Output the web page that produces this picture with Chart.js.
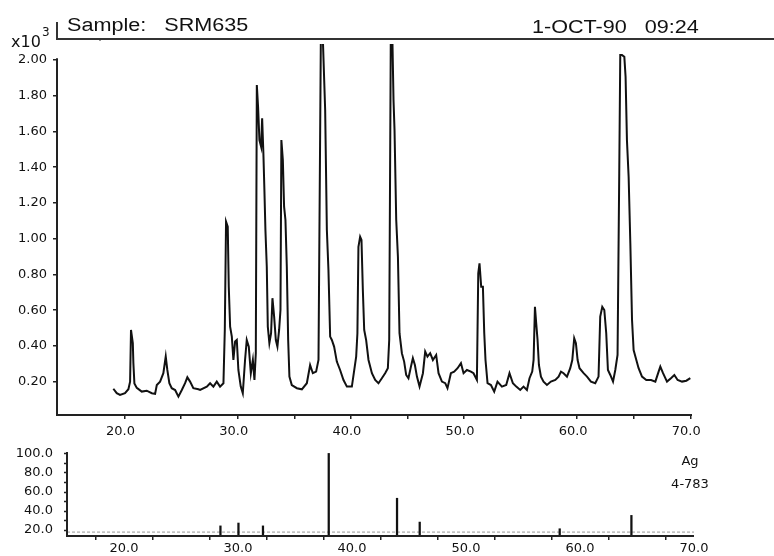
<!DOCTYPE html>
<html>
<head>
<meta charset="utf-8">
<title>SRM635 scan</title>
<script src="https://cdn.jsdelivr.net/npm/chart.js@4.4.1/dist/chart.umd.min.js"></script>
<style>
body{margin:0;background:#fff;}
#wrap{position:relative;width:774px;height:556px;}
#scanCanvas{position:absolute;left:0;top:0;}
#refCanvas{position:absolute;left:0;top:440px;}
</style>
</head>
<body>
<div id="wrap">
<canvas id="scanCanvas" width="774" height="440"></canvas>
<canvas id="refCanvas" width="774" height="116"></canvas>
</div>
<script>

// measured scan: 2-theta (deg) and counts (x10^3)
const twoTheta = [
19.01,19.31,19.60,20.04,20.34,20.49,20.57,20.73,20.78,20.87,
21.08,21.52,21.96,22.41,22.70,22.85,23.14,23.43,23.64,23.78,
23.96,24.17,24.47,24.76,25.06,25.35,25.55,25.79,26.08,26.53,
26.68,27.27,27.56,27.85,28.15,28.44,28.74,28.86,28.97,29.12,
29.21,29.33,29.48,29.62,29.77,29.92,30.06,30.27,30.45,30.65,
30.80,30.98,31.16,31.34,31.48,31.60,31.69,31.80,31.92,32.07,
32.16,32.27,32.36,32.45,32.57,32.66,32.80,32.95,33.07,33.22,
33.37,33.51,33.66,33.78,33.86,33.99,34.10,34.22,34.34,34.46,
34.57,34.78,35.23,35.67,36.11,36.40,36.64,36.93,37.14,37.38,
37.73,37.88,38.02,38.17,38.32,38.52,38.76,39.05,39.35,39.65,
40.09,40.47,40.58,40.67,40.82,40.94,41.06,41.18,41.35,41.56,
41.86,42.15,42.44,42.74,43.03,43.27,43.39,43.56,43.77,43.86,
44.01,44.16,44.30,44.51,44.71,44.89,45.09,45.31,45.48,45.66,
45.84,46.07,46.37,46.57,46.77,47.01,47.25,47.54,47.75,48.05,
48.34,48.54,48.84,49.13,49.43,49.73,49.96,50.26,50.61,50.84,
51.14,51.26,51.37,51.52,51.67,51.79,51.90,52.08,52.38,52.67,
52.96,53.35,53.73,54.02,54.32,54.62,54.97,55.26,55.56,55.79,
56.03,56.15,56.27,56.38,56.50,56.62,56.80,57.03,57.33,57.68,
58.07,58.36,58.57,58.80,59.10,59.39,59.57,59.74,59.89,60.04,
60.21,60.57,60.87,61.22,61.60,61.89,62.04,62.22,62.40,62.57,
62.72,62.93,63.17,63.37,63.57,63.72,63.81,63.96,64.17,64.28,
64.40,64.55,64.70,64.85,64.99,65.23,65.43,65.73,66.11,66.53,
66.91,67.20,67.35,67.59,67.94,68.29,68.59,68.88,69.27,69.65,
70.00
];

const counts = [
0.160,0.135,0.125,0.135,0.157,0.200,0.489,0.416,0.304,0.190,
0.165,0.144,0.149,0.135,0.131,0.181,0.200,0.247,0.340,0.265,
0.191,0.163,0.153,0.116,0.153,0.191,0.224,0.200,0.163,0.157,
0.153,0.172,0.191,0.172,0.200,0.172,0.191,0.489,1.095,1.067,
0.731,0.508,0.452,0.321,0.424,0.433,0.265,0.172,0.135,0.321,
0.433,0.396,0.247,0.321,0.209,0.359,1.860,1.739,1.552,1.515,
1.674,1.478,1.273,1.049,0.843,0.508,0.415,0.471,0.667,0.564,
0.433,0.396,0.489,0.601,1.552,1.440,1.179,1.105,0.843,0.433,
0.228,0.181,0.163,0.157,0.191,0.293,0.247,0.256,0.321,2.400,
1.720,1.049,0.825,0.452,0.433,0.396,0.312,0.265,0.209,0.172,
0.172,0.340,0.471,0.955,1.011,0.993,0.713,0.489,0.433,0.321,
0.247,0.209,0.191,0.219,0.247,0.275,0.433,2.500,1.776,1.608,
1.105,0.899,0.471,0.359,0.312,0.237,0.219,0.284,0.331,0.293,
0.228,0.172,0.247,0.368,0.340,0.359,0.321,0.349,0.247,0.200,
0.191,0.163,0.247,0.256,0.275,0.303,0.247,0.265,0.256,0.247,
0.209,0.806,0.862,0.731,0.731,0.471,0.321,0.191,0.181,0.144,
0.200,0.172,0.181,0.247,0.191,0.172,0.153,0.172,0.153,0.219,
0.256,0.321,0.619,0.527,0.433,0.293,0.228,0.200,0.181,0.200,
0.209,0.228,0.256,0.247,0.228,0.275,0.321,0.443,0.415,0.321,
0.275,0.247,0.228,0.200,0.191,0.228,0.564,0.619,0.601,0.471,
0.265,0.237,0.200,0.265,0.349,1.366,2.028,2.028,2.018,1.907,
1.552,1.347,0.974,0.545,0.377,0.321,0.275,0.228,0.209,0.209,
0.200,0.256,0.284,0.247,0.200,0.219,0.237,0.209,0.200,0.205,
0.219
];

// reference pattern Ag 4-783: line positions and relative intensity
const refAngles = [28.46, 30.04, 32.19, 37.96, 43.95, 45.94, 58.22, 64.51];
const refIntensity = [24, 27, 24, 100, 53, 28, 21, 35];
const refThreshold = 17.5;

// axis ranges and ticks
const scanXRange = [14.03, 70.15];
const scanYRange = [0.013, 2.09];
const scanXTicks = [20,25,30,35,40,45,50,55,60,65,70];
const scanYTicks = [0.2,0.4,0.6,0.8,1.0,1.2,1.4,1.6,1.8,2.0];

const refXRange = [15, 70];
const refYRange = [13.4, 101.5];
const refXTicks = [15,20,25,30,35,40,45,50,55,60,65,70];
const refYTicks = [20,30,40,50,60,70,80,90,100];

const ink = "#111";
const tickFont = {family:"'DejaVu Sans', sans-serif", size:13};

const scanPoints = twoTheta.map((t,i)=>({x:t, y:counts[i]}));
const refPoints = refAngles.map((t,i)=>({x:t, y:refIntensity[i]}));

// stretched text, the plotter font is wider than Arial
function wideText(ctx, text, x, y, sx){
    ctx.save();
    ctx.translate(x, y);
    ctx.scale(sx, 1);
    ctx.fillText(text, 0, 0);
    ctx.restore();
}

const scanFrame = {
    id:"scanFrame",
    afterDraw(chart){
        const {ctx, chartArea:a} = chart;
        const y = chart.scales.y;

        ctx.save();
        ctx.strokeStyle = "#222";
        ctx.lineWidth = 2;

        // axes
        ctx.beginPath();
        ctx.moveTo(a.left, y.getPixelForValue(2.01));
        ctx.lineTo(a.left, a.bottom);
        ctx.lineTo(a.right, a.bottom);
        ctx.stroke();

        // header rule
        ctx.strokeStyle = "#333";
        ctx.beginPath();
        ctx.moveTo(a.left, 22);
        ctx.lineTo(a.left, 39);
        ctx.lineTo(chart.width, 39);
        ctx.stroke();

        ctx.lineWidth = 1;
        ctx.beginPath();
        ctx.moveTo(100, 39);
        ctx.lineTo(100, 41);
        ctx.stroke();

        ctx.fillStyle = ink;
        ctx.textBaseline = "alphabetic";
        ctx.font = "18px 'Liberation Sans', Arial, sans-serif";
        wideText(ctx, "Sample:   SRM635", 67, 31, 1.2);
        wideText(ctx, "1-OCT-90   09:24", 532, 33, 1.2);

        ctx.font = "16px 'DejaVu Sans', sans-serif";
        ctx.fillText("x10", 11, 47);
        ctx.font = "12px 'DejaVu Sans', sans-serif";
        ctx.fillText("3", 42, 36);
        ctx.restore();
    }
};

const refFrame = {
    id:"refFrame",
    afterDraw(chart){
        const {ctx, chartArea:a} = chart;
        const y = chart.scales.y;

        ctx.save();
        ctx.strokeStyle = "#222";
        ctx.lineWidth = 2;
        ctx.beginPath();
        ctx.moveTo(a.left, a.top);
        ctx.lineTo(a.left, a.bottom);
        ctx.lineTo(a.right, a.bottom);
        ctx.stroke();

        // short ticks on the intensity axis
        ctx.lineWidth = 1.5;
        ctx.beginPath();
        refYTicks.forEach(v=>{
            const py = Math.round(y.getPixelForValue(v)) + 0.5;
            ctx.moveTo(a.left - 3, py);
            ctx.lineTo(a.left, py);
        });
        ctx.stroke();

        ctx.fillStyle = ink;
        ctx.textAlign = "center";
        ctx.font = "13px 'DejaVu Sans', sans-serif";
        ctx.fillText("Ag", 690, 25);
        ctx.fillText("4-783", 690, 48);
        ctx.restore();
    }
};

new Chart(

document.getElementById("scanCanvas"),

{
    type:"line",

    data:{
        datasets:[{
            data:scanPoints,
            borderColor:ink,
            borderWidth:2,
            pointRadius:0,
            tension:0
        }]
    },

    options:{
        responsive:false,
        animation:false,
        devicePixelRatio:1,
        layout:{padding:{top:44, right:82, left:0, bottom:0}},
        plugins:{legend:{display:false}, tooltip:{enabled:false}},
        scales:{
            x:{
                type:"linear",
                min:scanXRange[0],
                max:scanXRange[1],
                afterBuildTicks:s=>{ s.ticks = scanXTicks.map(v=>({value:v})); },
                afterFit:s=>{ s.height = 25; },
                border:{display:false},
                grid:{drawOnChartArea:false, color:"#222", lineWidth:1.5, tickLength:4},
                ticks:{
                    autoSkip:false, maxRotation:0,
                    padding:5, labelOffset:-4,
                    color:ink, font:tickFont,
                    callback:v=> v % 10 === 0 ? v.toFixed(1) : ""
                }
            },
            y:{
                min:scanYRange[0],
                max:scanYRange[1],
                afterBuildTicks:s=>{ s.ticks = scanYTicks.map(v=>({value:v})); },
                afterFit:s=>{ s.width = 57; },
                border:{display:false},
                grid:{drawOnChartArea:false, color:"#222", lineWidth:1.5, tickLength:4},
                ticks:{
                    autoSkip:false,
                    padding:6,
                    color:ink, font:tickFont,
                    callback:v=> v.toFixed(2)
                }
            }
        }
    },

    plugins:[scanFrame]
});

new Chart(

document.getElementById("refCanvas"),

{
    type:"bar",

    data:{
        datasets:[
        {
            type:"bar",
            data:refPoints,
            backgroundColor:ink,
            barThickness:1.6
        },
        {
            type:"line",
            data:[{x:refXRange[0], y:refThreshold},{x:refXRange[1], y:refThreshold}],
            borderColor:"#9a9a9a",
            borderWidth:1,
            borderDash:[3,2],
            pointRadius:0
        }
        ]
    },

    options:{
        responsive:false,
        animation:false,
        devicePixelRatio:1,
        layout:{padding:{top:12, right:80, left:0, bottom:0}},
        plugins:{legend:{display:false}, tooltip:{enabled:false}},
        scales:{
            x:{
                type:"linear",
                offset:false,
                min:refXRange[0],
                max:refXRange[1],
                afterBuildTicks:s=>{ s.ticks = refXTicks.map(v=>({value:v})); },
                afterFit:s=>{ s.height = 20; },
                border:{display:false},
                grid:{drawOnChartArea:false, color:"#222", lineWidth:1.5, tickLength:4},
                ticks:{
                    autoSkip:false, maxRotation:0,
                    padding:1,
                    color:ink, font:tickFont,
                    callback:v=> v % 10 === 0 ? v.toFixed(1) : ""
                }
            },
            y:{
                min:refYRange[0],
                max:refYRange[1],
                afterBuildTicks:s=>{ s.ticks = refYTicks.map(v=>({value:v})); },
                afterFit:s=>{ s.width = 67; },
                border:{display:false},
                // tick marks drawn by refFrame; the long invisible ticks set the label gap
                grid:{drawOnChartArea:false, color:"rgba(0,0,0,0)", tickLength:14},
                ticks:{
                    autoSkip:false,
                    padding:0,
                    color:ink, font:tickFont,
                    callback:v=> v % 20 === 0 ? v.toFixed(1) : ""
                }
            }
        }
    },

    plugins:[refFrame]
});

</script>
</body>
</html>
